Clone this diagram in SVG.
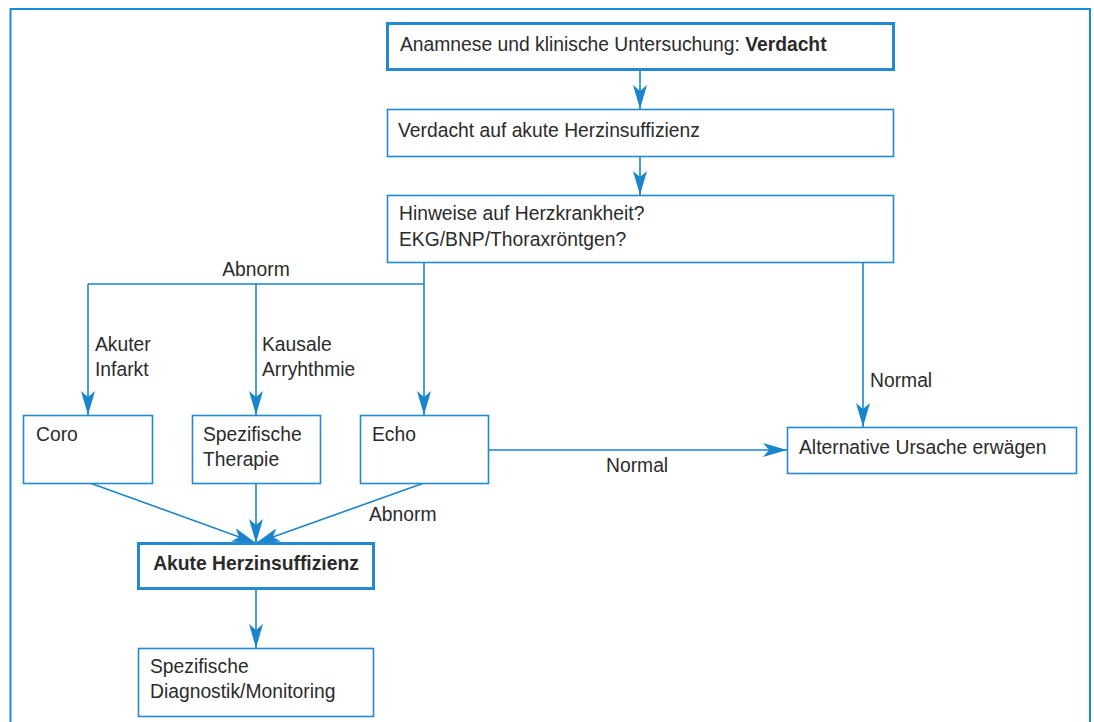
<svg xmlns="http://www.w3.org/2000/svg" width="1094" height="722" viewBox="0 0 1094 722">
<defs>
<style>
.box{fill:#fff;stroke:#2389d0;stroke-width:1.6}
.strong{stroke-width:3}
.t{font-family:"Liberation Sans",Arial,sans-serif;font-size:19.3px;fill:#2b2b2b}
.b{font-weight:bold}
.c{fill:none;stroke:#1a85cc;stroke-width:1.6}
.frame{fill:none;stroke:#1a8ad6;stroke-width:2}
</style>
<marker id="ah" viewBox="0 0 24 14" refX="24" refY="7" markerWidth="24" markerHeight="14" markerUnits="userSpaceOnUse" orient="auto">
<path d="M0,0 L24,7 L0,14 L6,7 Z" fill="#1a85cc"/>
</marker>
</defs>
<rect width="1094" height="722" fill="#fff"/>
<path class="frame" d="M10.5,722 L10.5,9 L1090,9 L1090,722"/>
<g id="connectors">
<path class="c" d="M640,70 L640,109" marker-end="url(#ah)"/>
<path class="c" d="M640,157 L640,195" marker-end="url(#ah)"/>
<path class="c" d="M424,263 L424,415" marker-end="url(#ah)"/>
<path class="c" d="M424,284 L88,284"/>
<path class="c" d="M88,284 L88,415" marker-end="url(#ah)"/>
<path class="c" d="M256,284 L256,415" marker-end="url(#ah)"/>
<path class="c" d="M863,263 L863,427" marker-end="url(#ah)"/>
<path class="c" d="M489,450 L787,450" marker-end="url(#ah)"/>
<path class="c" d="M90,483 L256,543" marker-end="url(#ah)"/>
<path class="c" d="M256,483 L256,543" marker-end="url(#ah)"/>
<path class="c" d="M424,483 L256,543" marker-end="url(#ah)"/>
<path class="c" d="M256,589 L256,648" marker-end="url(#ah)"/>
<text class="t" x="256" y="276" text-anchor="middle">Abnorm</text>
<text class="t" x="95" y="351">Akuter</text>
<text class="t" x="95" y="376">Infarkt</text>
<text class="t" x="262" y="351">Kausale</text>
<text class="t" x="262" y="376">Arryhthmie</text>
<text class="t" x="870" y="387">Normal</text>
<text class="t" x="606" y="472">Normal</text>
<text class="t" x="369" y="521">Abnorm</text>
</g>
<g id="anamnese">
<rect class="box strong" x="387.5" y="23.5" width="506" height="46"/>
<text class="t" x="400" y="51">Anamnese und klinische Untersuchung: <tspan class="b">Verdacht</tspan></text>
</g>
<g id="verdacht">
<rect class="box" x="387.5" y="109.5" width="506" height="47"/>
<text class="t" x="398" y="137">Verdacht auf akute Herzinsuffizienz</text>
</g>
<g id="hinweise">
<rect class="box" x="387.5" y="195.5" width="506" height="67"/>
<text class="t" x="399" y="220">Hinweise auf Herzkrankheit?</text>
<text class="t" x="399" y="246">EKG/BNP/Thoraxröntgen?</text>
</g>
<g id="coro">
<rect class="box" x="23.5" y="415.5" width="129" height="68"/>
<text class="t" x="36" y="441">Coro</text>
</g>
<g id="therapie">
<rect class="box" x="192.5" y="415.5" width="128" height="68"/>
<text class="t" x="203" y="441">Spezifische</text>
<text class="t" x="203" y="466">Therapie</text>
</g>
<g id="echo">
<rect class="box" x="360.5" y="415.5" width="128" height="68"/>
<text class="t" x="372" y="441">Echo</text>
</g>
<g id="alternative">
<rect class="box" x="787.5" y="427.5" width="289" height="46"/>
<text class="t" x="799" y="454">Alternative Ursache erwägen</text>
</g>
<g id="akute">
<rect class="box strong" x="138.5" y="543.5" width="235" height="45"/>
<text class="t b" x="256" y="570" text-anchor="middle">Akute Herzinsuffizienz</text>
</g>
<g id="diagnostik">
<rect class="box" x="138.5" y="648.5" width="235" height="68"/>
<text class="t" x="150" y="673">Spezifische</text>
<text class="t" x="150" y="698">Diagnostik/Monitoring</text>
</g>
</svg>
